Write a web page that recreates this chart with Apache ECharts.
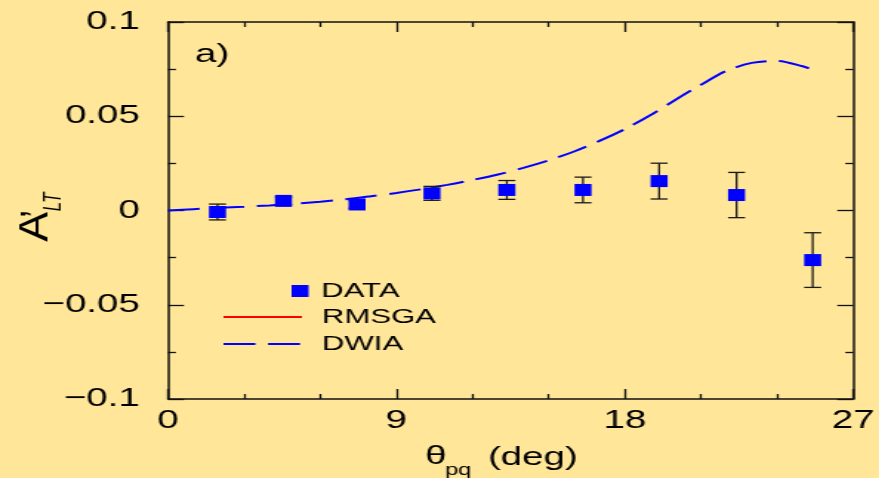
<!DOCTYPE html>
<html>
<head>
<meta charset="utf-8">
<script src="https://cdn.jsdelivr.net/npm/echarts@6/dist/echarts.min.js"></script>
<style>
  html, body { margin: 0; padding: 0; background: #FFE699; overflow: hidden; }
  /* the figure is laid out narrow and widened horizontally, like the printed plot */
  #chart { width: 594px; height: 478px; transform: scaleX(1.48); transform-origin: 0 0; }
</style>
</head>
<body>
<div id="chart"></div>
<script>
// measured asymmetry A'_LT versus theta_pq
const thetaData = [1.95, 4.55, 7.45, 10.4, 13.35, 16.35, 19.35, 22.4, 25.4];
const altData   = [-0.0008, 0.0051, 0.0032, 0.0091, 0.0109, 0.0109, 0.0156, 0.0082, -0.0263];
const altErr    = [0.0042, 0.002, 0.002, 0.0037, 0.005, 0.0068, 0.0095, 0.012, 0.0145];

// DWIA calculation
const dwiaTheta  = [0, 1, 2, 3, 4, 5, 6, 7, 8, 9, 10, 11, 12, 13, 14, 15, 16, 17, 18, 19, 20, 21, 22, 23, 24, 25, 25.35];
const dwiaValues = [0, 0.0007, 0.0014, 0.002, 0.0027, 0.0036, 0.0047, 0.006, 0.0076, 0.0093, 0.0113, 0.0136, 0.0162,
                    0.0191, 0.0226, 0.0266, 0.0313, 0.0369, 0.0432, 0.0505, 0.0588, 0.0667, 0.0741, 0.0783, 0.0794,
                    0.0765, 0.0749];

// RMSGA calculation (legend entry only)
const rmsgaValues = [];

const xTicks = [0, 9, 18, 27];
const xTickLabels = ['0', '9', '18', '27'];
const yTicks = [-0.1, -0.05, 0, 0.05, 0.1];
const yTickLabels = ['\u22120.1', '\u22120.05', '0', '0.05', '0.1'];

function tickText(ticks, labels) {
  return function (v) {
    for (let i = 0; i < ticks.length; i++) if (Math.abs(ticks[i] - v) < 1e-9) return labels[i];
    return '';
  };
}

const FONT = '"Liberation Sans", Arial, sans-serif';
const INK = '#111';

function xAxisCfg(pos, labels) {
  return {
    type: 'value', position: pos, min: 0, max: 27, interval: 9,
    axisLine: { show: true, onZero: false, lineStyle: { color: INK, width: 1.5 } },
    axisTick: { show: true, inside: true, length: 10, lineStyle: { color: INK, width: 1.3 } },
    minorTick: { show: true, splitNumber: 3, length: 5, lineStyle: { color: INK, width: 1.3 } },
    splitLine: { show: false },
    axisLabel: { show: labels, margin: 9, fontSize: 26, color: '#000', fontFamily: FONT,
                 formatter: tickText(xTicks, xTickLabels) }
  };
}
function yAxisCfg(pos, labels) {
  return {
    type: 'value', position: pos, min: -0.1, max: 0.1, interval: 0.05,
    axisLine: { show: true, onZero: false, lineStyle: { color: INK, width: 1.5 } },
    axisTick: { show: true, inside: true, length: 10.8, lineStyle: { color: INK, width: 1.3 } },
    minorTick: { show: true, splitNumber: 2, length: 5.4, lineStyle: { color: INK, width: 1.3 } },
    splitLine: { show: false },
    axisLabel: { show: labels, margin: 19, fontSize: 26, color: '#000', fontFamily: FONT,
                 formatter: tickText(yTicks, yTickLabels) }
  };
}

const chart = echarts.init(document.getElementById('chart'));
chart.setOption({
  backgroundColor: '#FFE699',
  animation: false,
  grid: { left: 113.5, right: 16.9, top: 22, bottom: 79 },
  xAxis: [xAxisCfg('bottom', true), xAxisCfg('top', false)],
  yAxis: [yAxisCfg('left', true), yAxisCfg('right', false)],
  legend: [
    { data: ['DATA'], orient: 'vertical', left: 197, top: 280.5, padding: 0,
      itemWidth: 11.5, itemHeight: 12, icon: 'rect',
      textStyle: { fontSize: 21, lineHeight: 21, color: '#000', fontFamily: FONT, padding: [0, 0, 0, 3.5] } },
    { data: ['RMSGA', 'DWIA'], orient: 'vertical', left: 150, top: 306.5, padding: 0,
      itemWidth: 53, itemHeight: 14, itemGap: 6,
      itemStyle: { opacity: 0 },
      textStyle: { fontSize: 21, lineHeight: 21, color: '#000', fontFamily: FONT, padding: [0, 0, 0, 8.6] } }
  ],
  series: [
    {
      name: 'RMSGA', type: 'line', symbol: 'none', data: rmsgaValues,
      lineStyle: { color: '#FF0000', width: 1.5 }, itemStyle: { color: '#FF0000' }
    },
    {
      name: 'DWIA', type: 'line', symbol: 'none', smooth: 0.3, z: 2,
      data: dwiaTheta.map((t, i) => [t, dwiaValues[i]]),
      lineStyle: { color: '#0000FF', width: 2, type: [21.6, 8.5] }, itemStyle: { color: '#0000FF' }
    },
    {
      name: 'DATA-err', type: 'custom', z: 3,
      data: thetaData.map((t, i) => [t, altData[i] - altErr[i], altData[i] + altErr[i]]),
      renderItem: function (params, api) {
        const lo = api.coord([api.value(0), api.value(1)]);
        const hi = api.coord([api.value(0), api.value(2)]);
        const hw = 5.75;
        const style = { stroke: '#1a1a1a', lineWidth: 1.3 };
        return {
          type: 'group',
          children: [
            { type: 'line', shape: { x1: lo[0], y1: lo[1], x2: hi[0], y2: hi[1] }, style: style },
            { type: 'line', shape: { x1: lo[0] - hw, y1: lo[1], x2: lo[0] + hw, y2: lo[1] }, style: style },
            { type: 'line', shape: { x1: hi[0] - hw, y1: hi[1], x2: hi[0] + hw, y2: hi[1] }, style: style }
          ]
        };
      }
    },
    {
      name: 'DATA', type: 'scatter', z: 4, symbol: 'rect', symbolSize: [11.5, 12],
      data: thetaData.map((t, i) => [t, altData[i]]),
      itemStyle: { color: '#0000FF', opacity: 1 }
    }
  ],
  graphic: [
    { type: 'text', left: 131.8, top: 42, style: { text: 'a)', fontSize: 26, fill: '#000', fontFamily: FONT } },
    // x-axis title: theta_pq (deg)
    { type: 'text', x: 287.2, y: 457, style: { text: '\u03B8', fontSize: 26, fill: '#000', fontFamily: FONT,
      align: 'left', verticalAlign: 'middle' } },
    { type: 'text', x: 300.7, y: 471, style: { text: 'pq', fontSize: 16, fill: '#000', fontFamily: FONT,
      align: 'left', verticalAlign: 'middle' } },
    { type: 'text', x: 329.7, y: 458, style: { text: '(deg)', fontSize: 26, fill: '#000', fontFamily: FONT,
      align: 'left', verticalAlign: 'middle' } },
    // y-axis title: A'_LT, rotated
    { type: 'text', x: 24.3, y: 227, rotation: Math.PI / 2, scaleX: 1.65,
      style: { text: 'A', fontSize: 27, fill: '#000', fontFamily: FONT, align: 'center', verticalAlign: 'middle' } },
    { type: 'text', x: 24, y: 214, rotation: Math.PI / 2, z: 10,
      style: { text: '\u2019', fontSize: 24, fontWeight: 'bold', fill: '#000', fontFamily: FONT,
      align: 'center', verticalAlign: 'middle' } },
    { type: 'text', x: 36.6, y: 202, rotation: Math.PI / 2,
      style: { text: 'LT', fontSize: 17, fontStyle: 'italic', fill: '#000', fontFamily: FONT,
      align: 'center', verticalAlign: 'middle' } }
  ]
});
</script>
</body>
</html>
